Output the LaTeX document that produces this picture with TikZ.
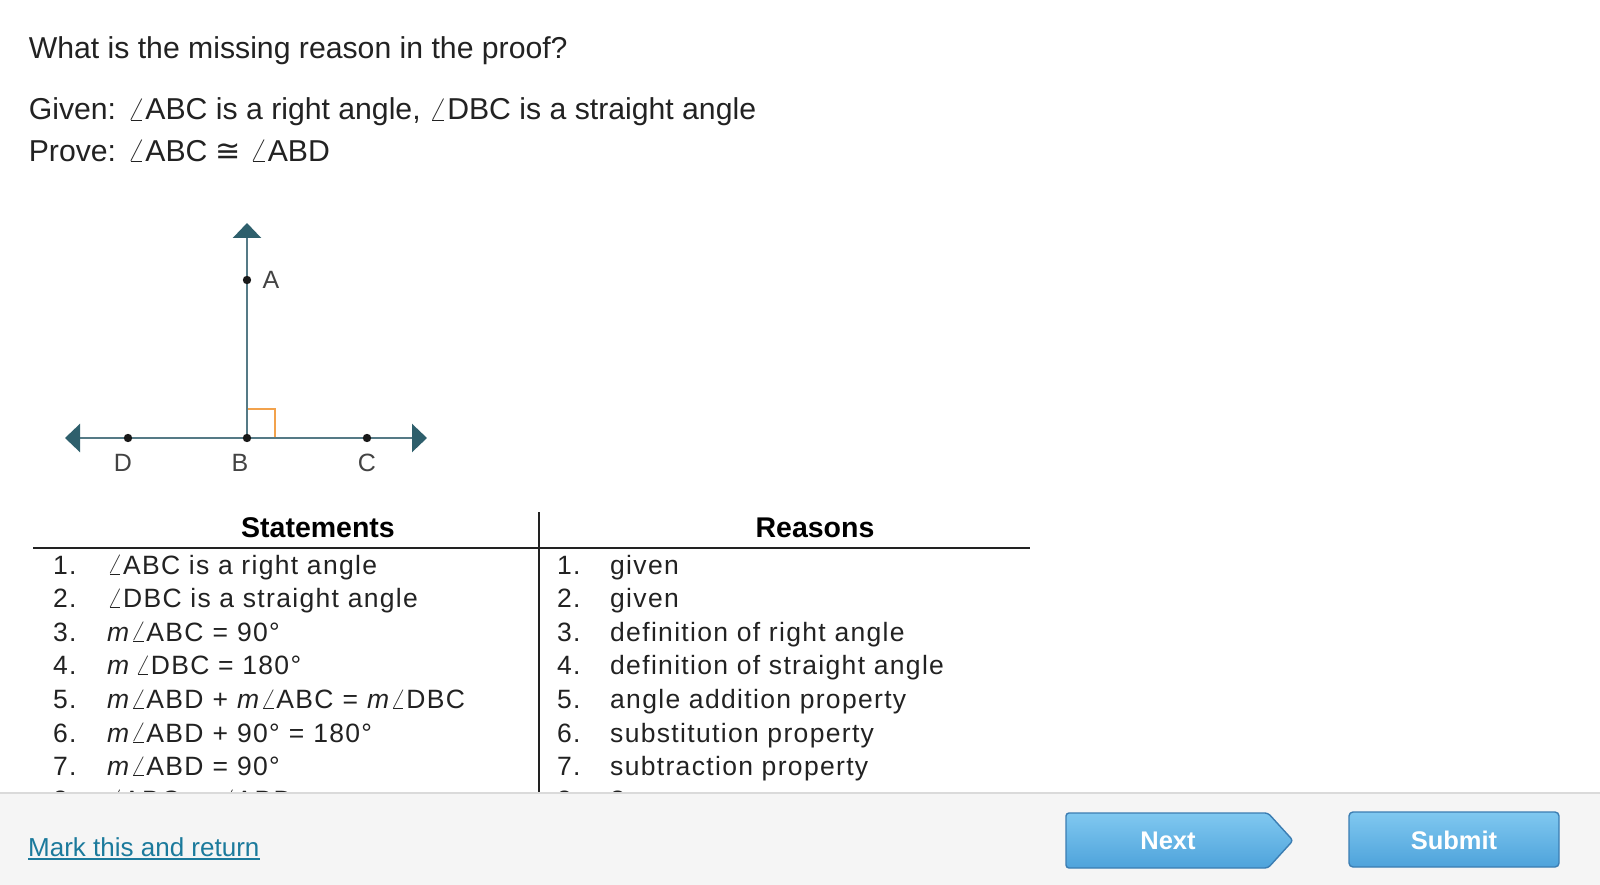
\documentclass[tikz,border=0pt]{standalone}
\usepackage{graphicx}
\usepackage{fontspec}
\setmainfont{Liberation Sans}
\newfontfamily\symfont{DejaVu Sans}
\newfontfamily\tablefont[LetterSpace=5]{Liberation Sans}
\usetikzlibrary{arrows.meta}

\definecolor{ink}{HTML}{222222}
\definecolor{rayline}{HTML}{557A86}
\definecolor{rayhead}{HTML}{2E5F6C}
\definecolor{rightmark}{HTML}{F2A24C}
\definecolor{linkblue}{HTML}{1B7A9C}
\definecolor{btntop}{HTML}{80C8F0}
\definecolor{btnbot}{HTML}{4EA3DB}
\definecolor{btnedge}{HTML}{3B7DB2}
\definecolor{footbg}{HTML}{F5F5F5}
\definecolor{footline}{HTML}{DADADA}

\newcommand{\angl}{\resizebox{!}{0.7em}{$\angle$}}
\newcommand{\congr}{{\symfont\char"2245}}
\newcommand{\opgap}{\hspace{0.34em}}

\begin{document}
\begin{tikzpicture}[x=1pt,y=-1pt,
    txt/.style={anchor=base west,inner sep=0,text=ink,font=\fontsize{30.2}{36}\selectfont},
    ray/.style={line width=2.4pt,draw=rayline},
    >={Triangle[width=28pt,length=15pt,color=rayhead]},
    pt/.style={fill=black!90},
    ptlabel/.style={inner sep=0,text=ink!85,font=\fontsize{25}{30}\selectfont},
    cell/.style={anchor=base west,inner sep=0,text=ink,font=\tablefont\fontsize{26.5}{32}\selectfont},
    head/.style={anchor=base,inner sep=0,text=black,font=\bfseries\fontsize{28.5}{34}\selectfont},
    rule/.style={line width=1.8pt,draw=ink},
    button/.style={draw=btnedge,line width=1.4pt,top color=btntop,bottom color=btnbot},
    btntext/.style={inner sep=0,text=white,font=\bfseries\fontsize{25.5}{30}\selectfont}]
  \useasboundingbox (0,0) rectangle (1600,885);
  \fill[white] (0,0) rectangle (1600,885);

  % question
  \node[txt] (title) at (28.6,58.3) {What is the missing reason in the proof?};
  \node[txt] (given) at (28.6,120) {Given: \angl ABC is a right angle, \angl DBC is a straight angle};
  \node[txt] (prove) at (28.6,161.7) {Prove: \angl ABC \congr\ \angl ABD};

  % figure
  \coordinate (A) at (247,280);
  \coordinate (B) at (247,438);
  \coordinate (C) at (367,438);
  \coordinate (D) at (128,438);
  \coordinate (upTip) at (247,223);
  \coordinate (leftTip) at (65,438);
  \coordinate (rightTip) at (427,438);
  \draw[line width=1.8pt,rightmark] ([yshift=29pt]B) -| ([xshift=28pt]B);
  \draw[ray,->] (B) -- (upTip);
  \draw[ray,<->] (leftTip) -- (rightTip);
  \foreach \p in {A,B,C,D} \fill[pt] (\p) circle (4.2);
  \node[ptlabel] (labA) at (271,280) {A};
  \node[ptlabel] (labD) at (123,463) {D};
  \node[ptlabel] (labB) at (240,463) {B};
  \node[ptlabel] (labC) at (367,463) {C};

  % proof table
  \newcommand{\drawStep}[3]{
    \node[cell] (sn#1) at (53,{574+33.6*(#1-1)}) {#1.};
    \node[cell] (s#1) at (107,{574+33.6*(#1-1)}) {#2};
    \node[cell] (rn#1) at (557,{574+33.6*(#1-1)}) {#1.};
    \node[cell] (r#1) at (610,{574+33.6*(#1-1)}) {#3}; }
  \node[head] (statements) at (318,537) {Statements};
  \node[head] (reasons) at (815,537) {Reasons};
  \draw[rule] (33,548) -- (1030,548);
  \draw[rule] (539,512) -- (539,793);
  \drawStep{1}{\angl ABC is a right angle}{given}
  \drawStep{2}{\angl DBC is a straight angle}{given}
  \drawStep{3}{\textit{m}\angl ABC\opgap=\opgap90°}{definition of right angle}
  \drawStep{4}{\textit{m}\,\angl DBC = 180°}{definition of straight angle}
  \drawStep{5}{\textit{m}\angl ABD\opgap+\opgap\textit{m}\angl ABC\opgap=\opgap\textit{m}\angl DBC}{angle addition property}
  \drawStep{6}{\textit{m}\angl ABD\opgap+\opgap90°\opgap=\opgap180°}{substitution property}
  \drawStep{7}{\textit{m}\angl ABD\opgap=\opgap90°}{subtraction property}
  \drawStep{8}{\angl ABC \congr\ \angl ABD}{?}

  % footer bar
  \fill[footbg] (0,793) rectangle (1600,885);
  \draw[footline,line width=1.2pt] (0,793) -- (1600,793);
  \node[anchor=base west,inner sep=0,text=linkblue,font=\fontsize{26}{31}\selectfont] (mark) at (28,856) {Mark this and return};
  \draw[linkblue,line width=1.3pt] ([yshift=-3pt]mark.base west) -- ([yshift=-3pt]mark.base east);
  \path[button,rounded corners=3pt] (1066,813) -- (1268,813) -- (1293,840.5) -- (1268,868) -- (1066,868) -- cycle;
  \node[btntext] (next) at (1168,841) {Next};
  \path[button,rounded corners=4pt] (1349,812) rectangle (1559,867);
  \node[btntext] (submit) at (1454,840) {Submit};
\end{tikzpicture}
\end{document}
